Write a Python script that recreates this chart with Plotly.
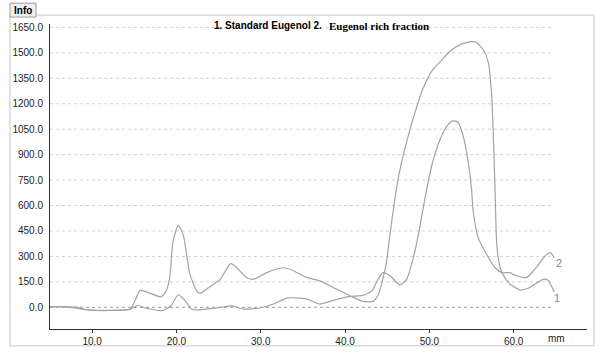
import plotly.graph_objects as go

# Curve 1: Standard Eugenol
std_x = [5.0, 6.8, 9.5, 12.3, 14.5, 15.1, 15.7, 16.6, 18.2, 18.8, 19.2, 19.6, 20.2, 20.8,
         21.6, 22.4, 22.8, 24.0, 25.2, 26.4, 26.9, 28.3, 29.1, 30.7, 32.6, 33.5, 34.7,
         35.5, 37.0, 38.6, 40.6, 42.1, 43.3, 43.9, 44.4, 44.9, 45.3, 45.7, 46.3, 47.3,
         48.3, 49.2, 50.4, 51.5, 52.4, 53.6, 55.0, 55.6, 56.4, 57.0, 57.4, 57.6, 57.8,
         58.0, 58.4, 59.0, 59.6, 60.8, 61.9, 63.5, 64.1, 64.8]
std_y = [4, 4, -16, -19, -10, 41, 101, 88, 62, 100, 175, 391, 483, 428,
         194, 97, 82, 123, 165, 257, 245, 175, 165, 204, 233, 224, 194,
         175, 156, 117, 68, 35, 35, 70, 150, 260, 420, 566, 759, 975,
         1150, 1284, 1401, 1459, 1508, 1547, 1566, 1560, 1518, 1442, 1245, 992, 680,
         370, 233, 170, 136, 101, 117, 165, 158, 90]

# Curve 2: Eugenol rich fraction
frac_x = [5.0, 8.3, 9.5, 14.5, 15.4, 16.3, 18.4, 19.4, 20.2, 21.0, 21.8, 22.4, 24.8,
          26.6, 27.9, 29.9, 31.5, 33.1, 34.7, 35.5, 37.0, 38.6, 40.6, 42.1, 43.2, 43.9,
          44.5, 45.3, 46.5, 47.3, 48.1, 48.7, 49.2, 49.7, 50.4, 51.3, 52.1, 52.8, 53.4,
          54.0, 54.6, 55.0, 55.2, 55.8, 56.8, 57.8, 58.6, 59.6, 59.9, 61.5, 62.5, 63.9,
          64.4, 64.8]
frac_y = [4, 0, -15, -12, 12, -4, -19, 12, 74, 41, -10, -16, -4,
          8, -10, -4, 19, 54, 54, 48, 19, 41, 64, 70, 97, 165,
          204, 187, 132, 165, 292, 428, 566, 700, 858, 992, 1070, 1099, 1091,
          1012, 858, 700, 566, 409, 311, 233, 204, 204, 194, 175, 224, 311,
          321, 292]

y_ticks = [0, 150, 300, 450, 600, 750, 900, 1050, 1200, 1350, 1500, 1650]
x_ticks = [10, 20, 30, 40, 50, 60]
grid_end = 64.8

line_col = "#a3a3a3"

fig = go.Figure()
fig.add_trace(go.Scatter(x=std_x, y=std_y, mode="lines",
                         line=dict(color=line_col, width=1.2, shape="spline", smoothing=0.6),
                         hoverinfo="skip", showlegend=False))
fig.add_trace(go.Scatter(x=frac_x, y=frac_y, mode="lines",
                         line=dict(color=line_col, width=1.2, shape="spline", smoothing=0.6),
                         hoverinfo="skip", showlegend=False))


def px_x(p):
    return (p - 50) / 537


def px_y(p):
    return (332 - p) / 308


shapes = []
for v in y_ticks:
    shapes.append(dict(type="line", xref="x", yref="y", x0=5, x1=grid_end, y0=v, y1=v,
                       line=dict(color="#9a9a9a" if v == 0 else "#d2d2d2", width=1, dash="dot"),
                       layer="below"))
# outer frame and info tab
shapes.append(dict(type="rect", xref="paper", yref="paper",
                   x0=px_x(10), x1=px_x(594), y0=px_y(349), y1=px_y(15),
                   line=dict(color="#c8c8c8", width=1), layer="below"))
shapes.append(dict(type="rect", xref="paper", yref="paper",
                   x0=px_x(10), x1=px_x(36), y0=px_y(17), y1=px_y(3),
                   line=dict(color="#9a9a9a", width=1), fillcolor="#f0f0f0"))

annotations = [
    dict(text="<b>Info</b>", xref="paper", yref="paper", x=px_x(23), y=px_y(10),
         xanchor="center", yanchor="middle",
         showarrow=False, font=dict(family="Liberation Sans, Arial", size=10, color="#000")),
    dict(text="<b>1. Standard Eugenol 2.</b>", xref="paper", yref="paper",
         x=px_x(324), y=px_y(26), xanchor="right", yanchor="middle", showarrow=False,
         font=dict(family="Liberation Sans, Arial", size=10, color="#000")),
    dict(text="<b>Eugenol rich fraction</b>", xref="paper", yref="paper",
         x=px_x(327), y=px_y(26), xanchor="left", yanchor="middle", showarrow=False,
         font=dict(family="Liberation Serif, Times New Roman", size=11, color="#000")),
    dict(text="mm", xref="paper", yref="paper", x=px_x(556), y=px_y(342),
         xanchor="center", yanchor="middle",
         showarrow=False, font=dict(family="Liberation Sans, Arial", size=10, color="#222")),
    dict(text="2", x=65.4, y=263, xref="x", yref="y", showarrow=False,
         xanchor="center", yanchor="middle",
         font=dict(family="Liberation Sans, Arial", size=11, color="#888")),
    dict(text="1", x=65.2, y=52, xref="x", yref="y", showarrow=False,
         xanchor="center", yanchor="middle",
         font=dict(family="Liberation Sans, Arial", size=11, color="#888")),
]

fig.update_layout(
    width=600, height=359,
    margin=dict(l=50, r=13, t=24, b=27),
    paper_bgcolor="white", plot_bgcolor="white",
    shapes=shapes, annotations=annotations,
    font=dict(family="Liberation Sans, Arial", size=10, color="#222"),
    xaxis=dict(range=[5, 68.7], tickvals=x_ticks, tickformat=".1f",
               showgrid=False, zeroline=False, showline=True, linecolor="#333", linewidth=1,
               ticks="outside", ticklen=3, tickcolor="#333", tickfont=dict(size=10, color="#222")),
    yaxis=dict(range=[-128, 1670], tickvals=y_ticks, tickformat=".1f",
               showgrid=False, zeroline=False, showline=True, linecolor="#333", linewidth=1,
               ticks="", ticklabelstandoff=4, tickfont=dict(size=10, color="#222")),
)

fig.write_html("out.html")
